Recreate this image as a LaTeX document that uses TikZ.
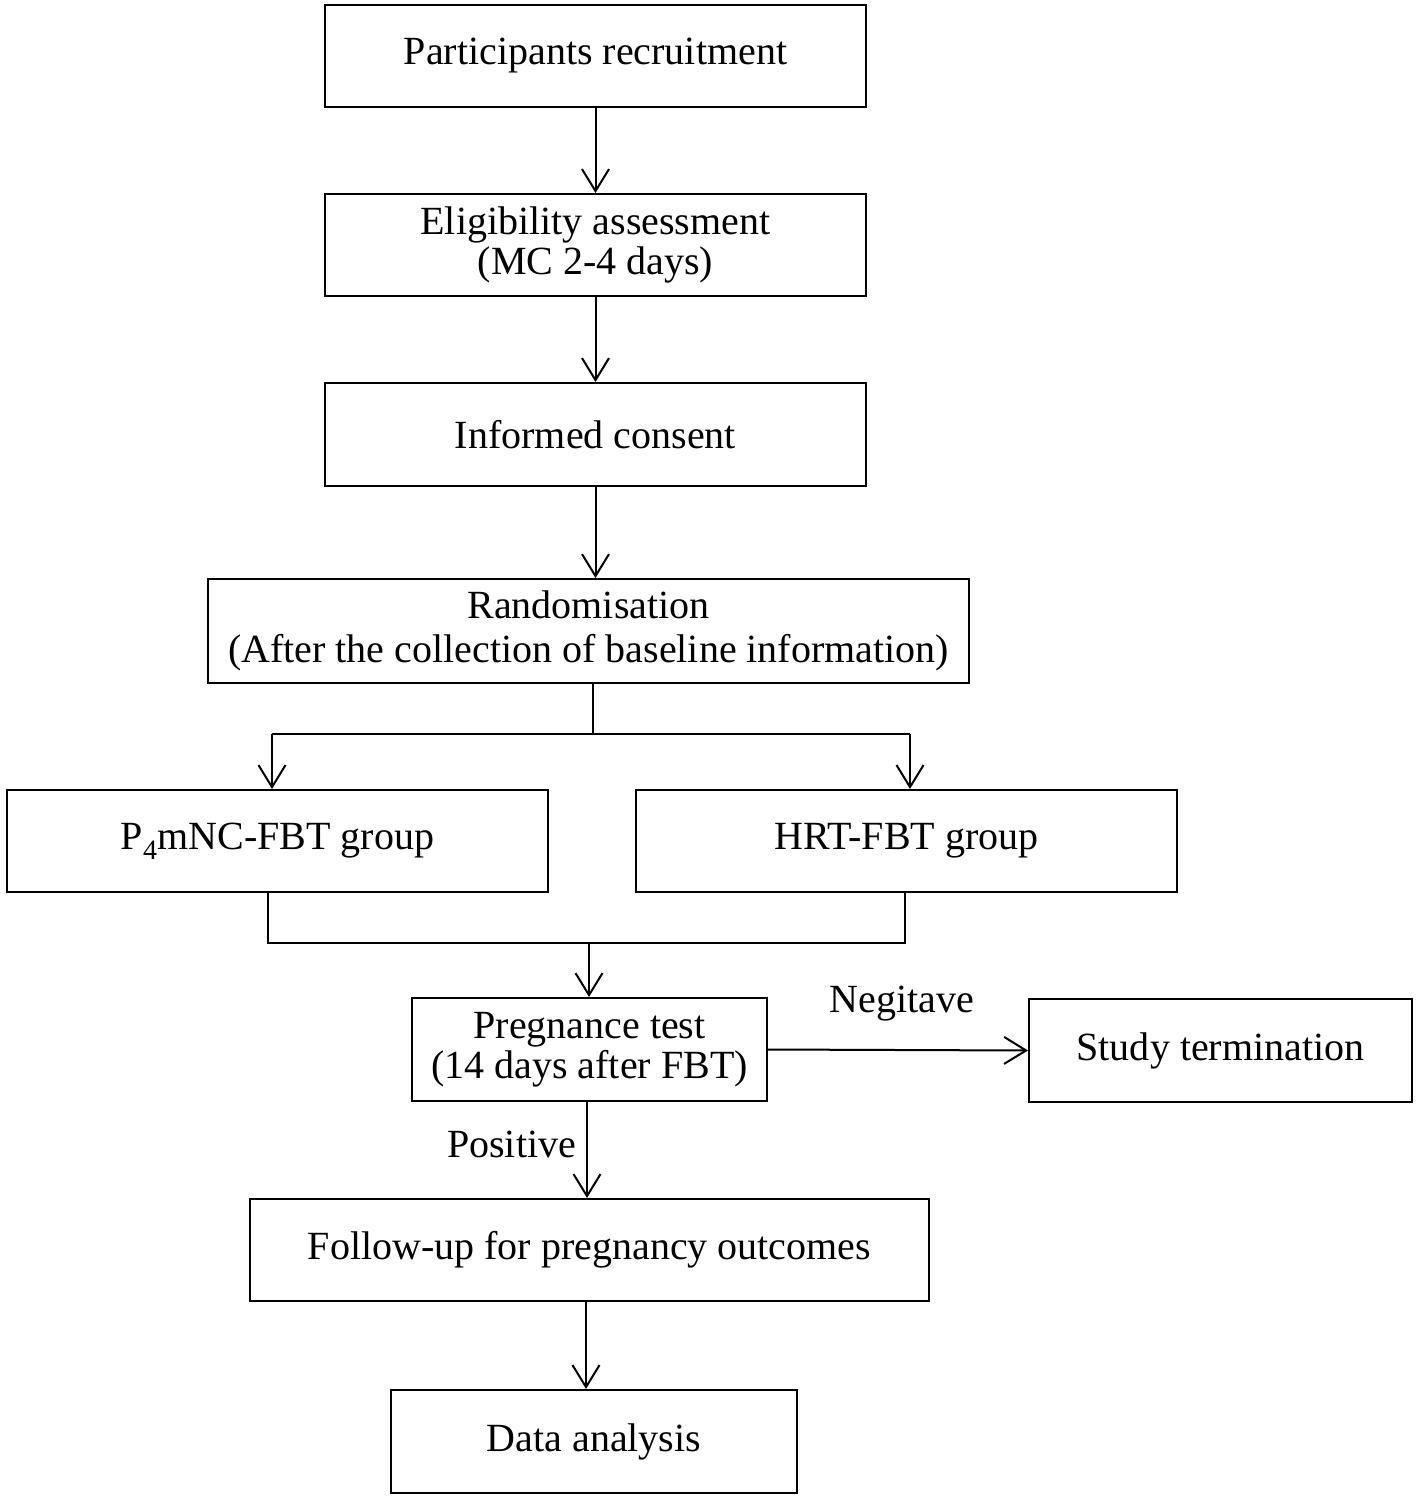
\documentclass[tikz,border=0pt]{standalone}
\usepackage{fontspec}
\setmainfont{Liberation Serif}
\usetikzlibrary{arrows.meta}

\begin{document}
\begin{tikzpicture}[
        x=1pt, y=-1pt,
        line width=2pt,
        font=\fontsize{40}{40}\selectfont,
        box/.style={draw, rectangle, inner sep=0pt, align=center, minimum height=102pt}, % Стиль блоков
        arr/.style={-{Straight Barb[length=22pt, width=27pt, line width=2pt]}},
        lbl/.style={inner sep=0pt},
    ]
    \useasboundingbox (0,0) rectangle (1417,1498);

    % блоки
    \node[box, minimum width=541pt] (recruit) at (595.5,56) {Participants recruitment};
    \node[box, minimum width=541pt] (elig) at (595.5,245) {Eligibility assessment\\(MC 2-4 days)};
    \node[box, minimum width=541pt, minimum height=103pt] (consent) at (595.5,434.5) {Informed consent};
    \node[box, minimum width=761pt, minimum height=104pt] (rand) at (588.5,631) {Randomisation\\[4pt](After the collection of baseline information)};
    \node[box, minimum width=541pt] (pgroup) at (277.5,841) {P\textsubscript{4}mNC-FBT group};
    \node[box, minimum width=541pt] (hgroup) at (906.5,841) {HRT-FBT group};
    \node[box, minimum width=355pt, minimum height=103pt] (preg) at (589.5,1049.5) {Pregnance test\\(14 days after FBT)};
    \node[box, minimum width=383pt, minimum height=103pt] (stop) at (1220.5,1050.5) {Study termination};
    \node[box, minimum width=679pt] (follow) at (589.5,1250) {Follow-up for pregnancy outcomes};
    \node[box, minimum width=406pt, minimum height=103pt] (data) at (594,1441.5) {Data analysis};

    % точки ветвления
    \coordinate (split) at (593,734);
    \coordinate (lft) at (272,734);
    \coordinate (rgt) at (910,734);
    \coordinate (m1) at (268,943);
    \coordinate (m2) at (905,943);
    \coordinate (join) at (589,943);

    % стрелки
    \draw[arr] (recruit) -- (elig);
    \draw[arr] (elig) -- (consent);
    \draw[arr] (consent) -- (consent |- rand.north);
    \draw (rand.south -| split) -- (split);
    \draw (lft) -- (rgt);
    \draw[arr] (lft) -- (lft |- pgroup.north);
    \draw[arr] (rgt) -- (rgt |- hgroup.north);
    \draw (pgroup.south -| m1) -- (m1) -- (m2) -- (hgroup.south -| m2);
    \draw[arr] (join) -- (join |- preg.north);
    \draw[arr] (preg.east) -- node[lbl, above=28pt, xshift=4pt] {Negitave} (stop.west);
    \draw[arr] (preg.south -| 587,0) -- node[lbl, left=10pt, pos=0.44] {Positive} (follow.north -| 587,0);
    \draw[arr] (follow.south -| 586,0) -- (data.north -| 586,0);
\end{tikzpicture}
\end{document}
